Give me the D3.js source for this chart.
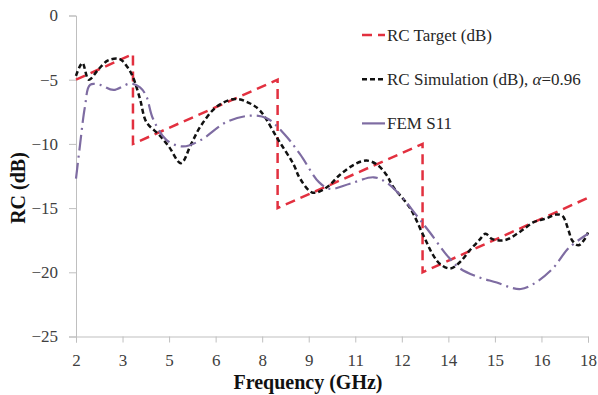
<!DOCTYPE html>
<html>
<head>
<meta charset="utf-8">
<script src="https://cdn.jsdelivr.net/npm/d3@7"></script>
<style>
    body { margin: 0; background: #fff; }
    .axis text { font-family: "Liberation Serif", "Times New Roman", serif; font-size: 17px; fill: #404040; }
    .axis path, .axis line { stroke: #bfbfbf; }
    .title { font-family: "Liberation Serif", "Times New Roman", serif; font-size: 20px; font-weight: bold; fill: #111; }
    .legend { font-family: "Liberation Serif", "Times New Roman", serif; font-size: 17px; fill: #262626; }
</style>
</head>
<body>
<svg id="chart" width="598" height="395"></svg>
<script>
// Tick labels on the frequency axis (evenly spaced, as in the original)
var xTickLabels = ["2", "3", "5", "6", "8", "9", "11", "12", "14", "15", "16", "18"];
var yTicks = [0, -5, -10, -15, -20, -25];

// [frequency GHz, RC dB]
var targetData = [[2, -5], [3.78, -3], [3.78, -10], [8.3, -5], [8.3, -15], [12.83, -10], [12.83, -20], [18, -14.2]];

var simData = [[2.0, -4.7], [2.2, -3.7], [2.4, -5.0], [2.7, -4.2], [3.0, -3.5], [3.37, -3.4], [3.6, -4.0], [3.78, -4.8],
    [4.0, -6.5], [4.2, -8.3], [4.6, -9.3], [4.9, -10.2], [5.28, -11.5], [5.6, -10.0], [5.9, -8.6], [6.4, -7.1],
    [6.97, -6.5], [7.4, -6.8], [7.75, -7.4], [8.3, -9.6], [8.8, -11.6], [9.0, -12.7], [9.4, -13.8], [9.83, -13.4],
    [10.25, -12.4], [10.7, -11.6], [11.08, -11.3], [11.4, -11.6], [11.7, -12.4], [11.9, -13.3], [12.44, -15.0],
    [12.85, -17.1], [13.17, -18.7], [13.4, -19.4], [13.7, -19.7], [14.0, -19.2], [14.3, -18.3], [14.6, -17.5],
    [14.8, -17.0], [15.0, -17.4], [15.4, -17.5], [15.9, -16.8], [16.3, -16.1], [16.7, -15.8], [17.0, -15.5],
    [17.2, -15.6], [17.4, -16.8], [17.5, -17.5], [17.7, -17.9], [17.9, -17.4], [18.0, -16.9]];

var femData = [[2.0, -12.7], [2.12, -10.2], [2.28, -7.1], [2.44, -5.4], [2.75, -5.4], [3.17, -5.8], [3.7, -5.3],
    [4.0, -5.6], [4.2, -6.3], [4.4, -8.0], [4.83, -9.7], [5.35, -10.2], [5.9, -9.7], [6.7, -8.3], [7.44, -7.8],
    [7.96, -8.0], [8.5, -9.2], [9.0, -10.8], [9.6, -13.0], [9.94, -13.5], [10.56, -13.1], [11.3, -12.6],
    [11.7, -13.0], [12.1, -13.9], [12.65, -15.6], [13.06, -16.9], [13.6, -18.7], [14.0, -19.7], [14.6, -20.4],
    [15.15, -20.8], [15.6, -21.2], [15.9, -21.3], [16.3, -20.9], [16.9, -19.7], [17.4, -18.1], [18.0, -17.0]];

var svg = d3.select("#chart");
var margin = {left: 76, right: 10, top: 15.5, bottom: 58.5};
var width = 598 - margin.left - margin.right;
var height = 395 - margin.top - margin.bottom;

var x = d3.scaleLinear()
    .domain([2, 18])
    .range([margin.left, margin.left + width]);

var y = d3.scaleLinear()
    .domain([-25, 0])
    .range([margin.top + height, margin.top]);

// x ticks sit at equal steps, labels come from the list
var xTickPos = xTickLabels.map(function (d, i) {
    return 2 + i * 16 / (xTickLabels.length - 1);
});

svg.append("g")
    .attr("class", "axis")
    .attr("transform", "translate(0," + (margin.top + height) + ")")
    .call(d3.axisBottom(x).tickValues(xTickPos).tickFormat(function (d, i) { return xTickLabels[i]; })
        .tickSizeOuter(0).tickSize(6).tickPadding(11));

svg.append("g")
    .attr("class", "axis")
    .attr("transform", "translate(" + margin.left + ",0)")
    .call(d3.axisLeft(y).tickValues(yTicks).tickFormat(d3.format("d")).tickSizeOuter(0).tickSize(7).tickPadding(11));

// Axis titles
svg.append("text")
    .attr("class", "title")
    .attr("x", 308)
    .attr("y", 389)
    .attr("text-anchor", "middle")
    .text("Frequency (GHz)");

svg.append("text")
    .attr("class", "title")
    .attr("transform", "translate(25,188) rotate(-90)")
    .attr("text-anchor", "middle")
    .text("RC (dB)");

var line = d3.line()
    .x(function (d) { return x(d[0]); })
    .y(function (d) { return y(d[1]); });

var smooth = d3.line()
    .x(function (d) { return x(d[0]); })
    .y(function (d) { return y(d[1]); })
    .curve(d3.curveCatmullRom.alpha(0.5));

var series = [
    {name: "RC Target (dB)", data: targetData, gen: line, color: "#e2303f", dash: "10,6", width: 2.5},
    {name: "RC Simulation (dB), α=0.96", data: simData, gen: smooth, color: "#111111", dash: "5,3", width: 2.5},
    {name: "FEM S11", data: femData, gen: smooth, color: "#7e6ca2", dash: "16,5,2,5", width: 2.2}
];

series.forEach(function (s) {
    svg.append("path")
        .attr("d", s.gen(s.data))
        .attr("fill", "none")
        .attr("stroke", s.color)
        .attr("stroke-width", s.width)
        .attr("stroke-dasharray", s.dash);
});

// Legend
var legend = svg.selectAll(".legendItem")
    .data(series)
    .enter()
    .append("g")
    .attr("transform", function (d, i) { return "translate(362," + (35 + i * 44.2) + ")"; });

legend.append("line")
    .attr("x1", 0)
    .attr("x2", 23)
    .attr("stroke", function (d) { return d.color; })
    .attr("stroke-width", function (d) { return d.width; })
    .attr("stroke-dasharray", function (d, i) { return i === 2 ? null : d.dash; });

legend.append("text")
    .attr("class", "legend")
    .attr("x", 25)
    .attr("dy", "0.35em")
    .each(function (d) {
        var t = d3.select(this);
        if (d.name.indexOf("α") >= 0) {
            t.append("tspan").text("RC Simulation (dB), ");
            t.append("tspan").style("font-style", "italic").text("α");
            t.append("tspan").text("=0.96");
        } else {
            t.text(d.name);
        }
    });
</script>
</body>
</html>
